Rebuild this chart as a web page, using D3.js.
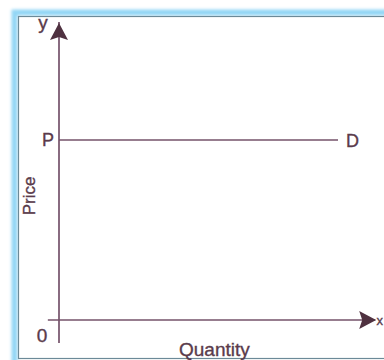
<!DOCTYPE html>
<html>
<head>
<meta charset="utf-8">
<script src="https://cdn.jsdelivr.net/npm/d3@7"></script>
<style>
  html, body { margin: 0; padding: 0; background: #ffffff; }
  svg { display: block; }
  text { font-family: "Liberation Sans", Arial, sans-serif; fill: #5a3b4b; stroke: #5a3b4b; stroke-width: 0.35; }
</style>
</head>
<body>
<svg id="chart" width="384" height="360"></svg>
<script>
// ---- data ----
const axisNames = ["Quantity", "Price"];
const axisLetters = ["x", "y"];
const originLabel = ["0"];
const priceLevels = [6];          // P
const priceLabels = ["P"];
const demandQuantity = [0, 9];    // horizontal demand curve from Q=0 to Q=9
const demandLabel = ["D"];
const xAxisExtent = [-0.36, 10.2];
const yAxisExtent = [-0.77, 9.93];

// ---- setup ----
const svg = d3.select("#chart");
const x = d3.scaleLinear().domain([0, 10]).range([59, 369]);
const y = d3.scaleLinear().domain([0, 10]).range([320, 20]);

const lineCol = "#74526a";
const headCol = "#4f3140";

// ---- frame ----
const defs = svg.append("defs");
const f = defs.append("filter").attr("id", "glow").attr("x", "-10%").attr("y", "-10%").attr("width", "120%").attr("height", "120%");
f.append("feGaussianBlur").attr("stdDeviation", 1.6);

svg.append("rect").attr("x", 14.5).attr("y", 12.5).attr("width", 420).attr("height", 360)
  .attr("fill", "none").attr("stroke", "#93d6f5").attr("stroke-width", 6).attr("filter", "url(#glow)");
svg.append("rect").attr("x", 18.5).attr("y", 16.5).attr("width", 420).attr("height", 342)
  .attr("fill", "#ffffff").attr("stroke", "#6c8a98").attr("stroke-width", 1.2);

// ---- axes ----
const line = d3.line().x(d => x(d[0])).y(d => y(d[1]));
const g = svg.append("g");

g.append("path")
  .attr("d", line([[0, yAxisExtent[0]], [0, yAxisExtent[1]]]))
  .attr("stroke", lineCol).attr("stroke-width", 1.7).attr("fill", "none");
g.append("path")
  .attr("d", line([[xAxisExtent[0], 0], [xAxisExtent[1], 0]]))
  .attr("stroke", lineCol).attr("stroke-width", 1.7).attr("fill", "none");

// arrowheads
const tipY = [x(0), y(yAxisExtent[1]) + 1];
g.append("path")
  .attr("d", `M${tipY[0]},${tipY[1]} L${tipY[0] + 9},${tipY[1] + 17} L${tipY[0]},${tipY[1] + 14} L${tipY[0] - 9},${tipY[1] + 17} Z`)
  .attr("fill", headCol);
const tipX = [x(xAxisExtent[1]) + 1, y(0)];
g.append("path")
  .attr("d", `M${tipX[0]},${tipX[1]} L${tipX[0] - 17},${tipX[1] - 9} L${tipX[0] - 14},${tipX[1]} L${tipX[0] - 17},${tipX[1] + 9} Z`)
  .attr("fill", headCol);

// demand line
g.append("path")
  .attr("d", line(demandQuantity.map(q => [q, priceLevels[0]])))
  .attr("stroke", lineCol).attr("stroke-width", 1.7).attr("fill", "none");

// ---- labels ----
g.append("text").attr("x", x(0) - 5).attr("y", y(priceLevels[0]) + 6)
  .attr("text-anchor", "end").attr("font-size", 18).text(priceLabels[0]);
g.append("text").attr("x", x(demandQuantity[1]) + 8).attr("y", y(priceLevels[0]) + 6.5)
  .attr("text-anchor", "start").attr("font-size", 18).text(demandLabel[0]);
g.append("text").attr("x", x(0) - 17).attr("y", y(0) + 22)
  .attr("text-anchor", "middle").attr("font-size", 19).text(originLabel[0]);
g.append("text").attr("x", x(0) - 16).attr("y", 29)
  .attr("text-anchor", "middle").attr("font-size", 19).text(axisLetters[1]);
g.append("text").attr("x", 376.5).attr("y", y(0) + 5)
  .attr("text-anchor", "start").attr("font-size", 13).text(axisLetters[0]);

// axis titles
g.append("text").attr("x", 179).attr("y", 356)
  .attr("text-anchor", "start").attr("font-size", 19).text(axisNames[0]);
g.append("text").attr("transform", "translate(35,196) rotate(-90)")
  .attr("text-anchor", "middle").attr("font-size", 17).text(axisNames[1]);
</script>
</body>
</html>
